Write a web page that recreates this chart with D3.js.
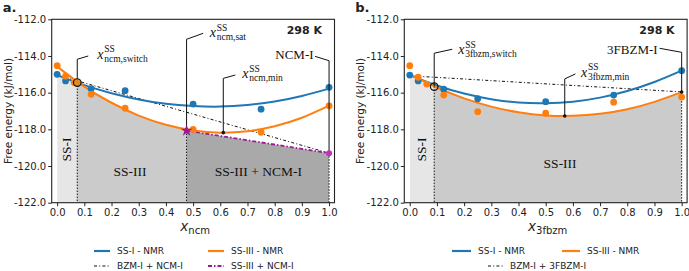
<!DOCTYPE html>
<html lang="en">
<head>
<meta charset="UTF-8">
<title>Free energy vs composition</title>
<script src="https://cdn.jsdelivr.net/npm/d3@7"></script>
<style>
  body { margin: 0; background: #fff; }
  .tick text { font-family: "DejaVu Sans", sans-serif; font-size: 10px; fill: #222; }
  .tick line, .domain { stroke: #222; }
  .serif { font-family: "Liberation Serif", serif; fill: #111; }
  .sans { font-family: "DejaVu Sans", sans-serif; fill: #222; }
</style>
</head>
<body>
<script>
// ticks
const xTickValues = [0, 0.1, 0.2, 0.3, 0.4, 0.5, 0.6, 0.7, 0.8, 0.9, 1.0];
const yTickValues = [-112, -114, -116, -118, -120, -122];
const fitX = [0, 0.1, 0.2, 0.3, 0.4, 0.5, 0.6, 0.7, 0.8, 0.9, 1.0];

// panel a: ncm
const ncmBlueX = [0, 0.031, 0.125, 0.25, 0.5, 0.75, 1.0];
const ncmBlueE = [-115.0, -115.36, -115.78, -115.89, -116.62, -116.9, -115.71];
const ncmOrangeX = [0, 0.031, 0.0625, 0.125, 0.25, 0.5, 0.75, 1.0];
const ncmOrangeE = [-114.53, -115.1, -115.45, -116.09, -116.85, -118.0, -118.16, -116.72];
const ncmBlueFit = [-115.04, -115.59, -116.03, -116.37, -116.61, -116.73, -116.76, -116.67, -116.48, -116.18, -115.78];
const ncmOrangeFit = [-114.58, -115.67, -116.55, -117.25, -117.75, -118.06, -118.18, -118.10, -117.83, -117.37, -116.71];
const ncmBzmTieX = [0, 1];
const ncmBzmTieE = [-115.04, -119.3];
const ncmSs3TieX = [0.476, 1];
const ncmSs3TieE = [-118.07, -119.3];
const ncmSwitch = [0.074, -115.45];
const ncmSat = [0.476, -118.07];
const ncmMin = [0.611, -118.18];

// panel b: 3fbzm
const fbzBlueX = [0, 0.031, 0.125, 0.25, 0.5, 0.75, 1.0];
const fbzBlueE = [-115.04, -115.36, -115.81, -116.33, -116.49, -116.13, -114.8];
const fbzOrangeX = [0, 0.031, 0.0625, 0.125, 0.25, 0.5, 0.75, 1.0];
const fbzOrangeE = [-114.53, -115.16, -115.53, -116.13, -117.04, -117.12, -116.52, -116.24];
const fbzBlueFit = [-115.04, -115.61, -116.05, -116.36, -116.54, -116.58, -116.49, -116.27, -115.91, -115.42, -114.80];
const fbzOrangeFit = [-114.99, -115.72, -116.31, -116.76, -117.07, -117.24, -117.26, -117.15, -116.90, -116.50, -115.97];
const fbzBzmTieX = [0, 1];
const fbzBzmTieE = [-115.08, -115.96];
const fbzSwitch = [0.09, -115.67];
const fbzMin = [0.57, -117.27];

const blue = "#1f77b4", orange = "#ff7f0e", purple = "#9a1a96";
const zip = (xs, es) => xs.map((v, i) => [v, es[i]]);

const svg = d3.select("body").append("svg").attr("width", 689).attr("height", 271);

function drawPanel(cfg) {
  const g = svg.append("g");
  const x = d3.scaleLinear().domain([-0.02, 1.02]).range([cfg.left, cfg.left + 282.8]);
  const y = d3.scaleLinear().domain([-122, -112]).range([202.7, 19.3]);
  const bottom = y(-122), top = y(-112);

  // shaded phase regions
  cfg.regions.forEach((r, i) => {
    const id = cfg.id + "-clip" + i;
    g.append("clipPath").attr("id", id).append("rect")
      .attr("x", x(r.from)).attr("y", top)
      .attr("width", x(r.to) - x(r.from)).attr("height", bottom - top);
    g.append("path").datum(r.top)
      .attr("clip-path", `url(#${id})`)
      .attr("fill", r.fill)
      .attr("d", d3.area().x(d => x(d[0])).y0(bottom).y1(d => y(d[1])).curve(r.curve));
  });

  // dotted drop lines
  cfg.drops.forEach(d => {
    g.append("line").attr("x1", x(d[0])).attr("x2", x(d[0]))
      .attr("y1", y(d[1])).attr("y2", bottom)
      .attr("stroke", "#111").attr("stroke-width", 1).attr("stroke-dasharray", "1.5,1.5");
  });

  // region labels
  cfg.regionLabels.forEach(l => {
    g.append("text").attr("class", "serif")
      .attr("font-size", 13.5).attr("text-anchor", "middle").attr("dominant-baseline", "central")
      .attr("transform", `translate(${x(l.x)},${y(l.e)}) rotate(${l.rot || 0})`)
      .text(l.text);
  });

  // tie lines
  cfg.ties.forEach(t => {
    g.append("path").datum(t.pts)
      .attr("fill", "none").attr("stroke", t.color).attr("stroke-width", t.width)
      .attr("stroke-dasharray", t.dash)
      .attr("d", d3.line().x(d => x(d[0])).y(d => y(d[1])));
  });

  // fitted curves
  const curve = d3.line().x(d => x(d[0])).y(d => y(d[1])).curve(d3.curveNatural);
  cfg.fits.forEach(f => {
    g.append("path").datum(f.pts).attr("fill", "none")
      .attr("stroke", f.color).attr("stroke-width", 2).attr("d", curve);
  });

  // NMR points
  cfg.points.forEach(s => {
    g.selectAll(null).data(s.pts).enter().append("circle")
      .attr("cx", d => x(d[0])).attr("cy", d => y(d[1])).attr("r", 3.4)
      .attr("fill", s.color);
  });

  // annotation leader lines + labels
  cfg.notes.forEach(n => {
    const px = x(n.at[0]), py = y(n.at[1]), ky = y(n.knee);
    g.append("polyline")
      .attr("points", `${px},${py} ${px},${ky} ${px + n.dx},${ky + n.dy}`)
      .attr("fill", "none").attr("stroke", "#111").attr("stroke-width", 1);
    const tx = px + n.dx + n.tdx, ty = ky + n.dy + n.tdy;
    if (n.plain) {
      g.append("text").attr("class", "serif").attr("font-size", 13)
        .attr("x", tx).attr("y", ty).attr("text-anchor", "end").text(n.plain);
    } else {
      g.append("text").attr("class", "serif").attr("font-size", 14).attr("font-style", "italic")
        .attr("x", tx).attr("y", ty).text("x");
      g.append("text").attr("class", "serif").attr("font-size", 9.5)
        .attr("x", tx + 7).attr("y", ty - 6.5).text("SS");
      g.append("text").attr("class", "serif").attr("font-size", 9.5)
        .attr("x", tx + 7).attr("y", ty + 3).text(n.sub);
    }
  });

  // special markers
  cfg.markers.forEach(m => {
    if (m.type === "star") {
      g.append("path").attr("d", d3.symbol(d3.symbolStar, 45)())
        .attr("transform", `translate(${x(m.at[0])},${y(m.at[1])})`)
        .attr("fill", purple);
    } else {
      g.append("circle").attr("cx", x(m.at[0])).attr("cy", y(m.at[1]))
        .attr("r", m.r).attr("fill", m.fill)
        .attr("stroke", m.stroke || "none").attr("stroke-width", 1.2);
    }
  });

  // axes
  g.append("g").attr("transform", `translate(0,${bottom})`)
    .call(d3.axisBottom(x).tickValues(xTickValues).tickFormat(d => d.toFixed(1)).tickSize(3.5).tickPadding(2.5))
    .call(a => a.select(".domain").remove());
  g.append("g").attr("transform", `translate(${x(-0.02)},0)`)
    .call(d3.axisLeft(y).tickValues(yTickValues).tickFormat(d => d.toFixed(1)).tickSize(3.5).tickPadding(2))
    .call(a => a.select(".domain").remove());
  g.append("rect").attr("x", x(-0.02)).attr("y", top)
    .attr("width", x(1.02) - x(-0.02)).attr("height", bottom - top)
    .attr("fill", "none").attr("stroke", "#222").attr("stroke-width", 1.1);

  // labels
  g.append("text").attr("class", "sans").attr("font-size", 11).attr("font-weight", "bold")
    .attr("x", x(1) - 7).attr("y", top + 15).attr("text-anchor", "end").text("298 K");
  g.append("text").attr("class", "sans").attr("font-size", 13).attr("font-weight", "bold")
    .attr("x", cfg.left - 49).attr("y", 12).text(cfg.tag);
  g.append("text").attr("class", "sans").attr("font-size", 10.5).attr("text-anchor", "middle")
    .attr("transform", `translate(${cfg.left - 40},${(top + bottom) / 2}) rotate(-90)`)
    .text("Free energy (kJ/mol)");
  const xl = g.append("text").attr("class", "sans").attr("text-anchor", "middle")
    .attr("x", (x(-0.02) + x(1.02)) / 2 + 2).attr("y", 230.5);
  xl.append("tspan").attr("font-size", 13.5).attr("font-style", "italic").text("x");
  xl.append("tspan").attr("font-size", 10).attr("dy", 3.5).text(cfg.xsub);

  // legend
  cfg.legend.forEach(l => {
    g.append("line").attr("x1", l.x).attr("x2", l.x + l.len).attr("y1", l.y).attr("y2", l.y)
      .attr("stroke", l.color).attr("stroke-width", l.width).attr("stroke-dasharray", l.dash || null);
    g.append("text").attr("class", "sans").attr("font-size", 9)
      .attr("x", l.x + l.len + 7).attr("y", l.y + 3.3).text(l.text);
  });
}

const bzmDash = "3,2.2,1,2.2", ss3Dash = "4,2,1.5,2";

drawPanel({
  id: "a", left: 51.7, tag: "a.", xsub: "ncm",
  regions: [
    { from: 0, to: ncmSwitch[0], top: zip(fitX, ncmBlueFit), fill: "#e6e6e6", curve: d3.curveNatural },
    { from: ncmSwitch[0], to: ncmSat[0], top: zip(fitX, ncmOrangeFit), fill: "#cbcbcb", curve: d3.curveNatural },
    { from: ncmSat[0], to: 1, top: zip(ncmSs3TieX, ncmSs3TieE), fill: "#a9a9a9", curve: d3.curveLinear }
  ],
  drops: [ncmSwitch, ncmSat, [1, ncmSs3TieE[1]]],
  regionLabels: [
    { x: 0.035, e: -119.1, text: "SS-I", rot: -90 },
    { x: 0.268, e: -120.3, text: "SS-III" },
    { x: 0.74, e: -120.3, text: "SS-III + NCM-I" }
  ],
  ties: [
    { pts: zip(ncmBzmTieX, ncmBzmTieE), color: "#111", width: 1, dash: bzmDash },
    { pts: zip(ncmSs3TieX, ncmSs3TieE), color: purple, width: 1.8, dash: ss3Dash }
  ],
  fits: [
    { pts: zip(fitX, ncmBlueFit), color: blue },
    { pts: zip(fitX, ncmOrangeFit), color: orange }
  ],
  points: [
    { pts: zip(ncmBlueX, ncmBlueE), color: blue },
    { pts: zip(ncmOrangeX, ncmOrangeE), color: orange }
  ],
  notes: [
    { at: ncmSwitch, knee: -114.18, dx: 11, dy: -3.3, tdx: 9, tdy: 3, sub: "ncm,switch" },
    { at: ncmSat, knee: -113.09, dx: 16.6, dy: -6, tdx: 6.5, tdy: 4.2, sub: "ncm,sat" },
    { at: ncmMin, knee: -115.22, dx: 12, dy: -3.3, tdx: 7, tdy: 3, sub: "ncm,min" },
    { at: [1, ncmSs3TieE[1]], knee: -114.26, dx: -14, dy: -4.4, tdx: -1.5, tdy: 3, plain: "NCM-I" }
  ],
  markers: [
    { type: "circle", at: ncmSwitch, r: 3.8, fill: "#e0892a", stroke: "#111" },
    { type: "star", at: ncmSat },
    { type: "circle", at: ncmMin, r: 1.8, fill: "#111" },
    { type: "circle", at: [1, ncmSs3TieE[1]], r: 3, fill: "#c42fb8" }
  ],
  legend: [
    { x: 94, y: 251, len: 16, color: blue, width: 2.2, text: "SS-I - NMR" },
    { x: 208, y: 251, len: 16, color: orange, width: 2.2, text: "SS-III - NMR" },
    { x: 94, y: 266, len: 16, color: "#111", width: 1, dash: bzmDash, text: "BZM-I + NCM-I" },
    { x: 208, y: 266, len: 16, color: purple, width: 1.8, dash: ss3Dash, text: "SS-III + NCM-I" }
  ]
});

drawPanel({
  id: "b", left: 404.3, tag: "b.", xsub: "3fbzm",
  regions: [
    { from: 0, to: fbzSwitch[0], top: zip(fitX, fbzBlueFit), fill: "#e6e6e6", curve: d3.curveNatural },
    { from: fbzSwitch[0], to: 1, top: zip(fitX, fbzOrangeFit), fill: "#cbcbcb", curve: d3.curveNatural }
  ],
  drops: [fbzSwitch, [1, fbzOrangeFit[10]]],
  regionLabels: [
    { x: 0.045, e: -119.1, text: "SS-I", rot: -90 },
    { x: 0.553, e: -119.85, text: "SS-III" }
  ],
  ties: [
    { pts: zip(fbzBzmTieX, fbzBzmTieE), color: "#111", width: 1, dash: bzmDash }
  ],
  fits: [
    { pts: zip(fitX, fbzBlueFit), color: blue },
    { pts: zip(fitX, fbzOrangeFit), color: orange }
  ],
  points: [
    { pts: zip(fbzBlueX, fbzBlueE), color: blue },
    { pts: zip(fbzOrangeX, fbzOrangeE), color: orange }
  ],
  notes: [
    { at: fbzSwitch, knee: -113.85, dx: 18, dy: -4, tdx: 6, tdy: 5, sub: "3fbzm,switch" },
    { at: fbzMin, knee: -115.25, dx: 10.7, dy: -5, tdx: 5.5, tdy: 3, sub: "3fbzm,min" },
    { at: [1, fbzOrangeFit[10]], knee: -113.8, dx: -22, dy: -4, tdx: -2, tdy: 6, plain: "3FBZM-I" }
  ],
  markers: [
    { type: "circle", at: fbzSwitch, r: 3.8, fill: "none", stroke: "#111" },
    { type: "circle", at: fbzMin, r: 1.8, fill: "#111" },
    { type: "circle", at: [1, fbzBzmTieE[1]], r: 1.8, fill: "#111" }
  ],
  legend: [
    { x: 452, y: 251, len: 19, color: blue, width: 2.2, text: "SS-I - NMR" },
    { x: 562, y: 251, len: 18, color: orange, width: 2.2, text: "SS-III - NMR" },
    { x: 488, y: 266, len: 15, color: "#111", width: 1, dash: bzmDash, text: "BZM-I + 3FBZM-I" }
  ]
});
</script>
</body>
</html>
